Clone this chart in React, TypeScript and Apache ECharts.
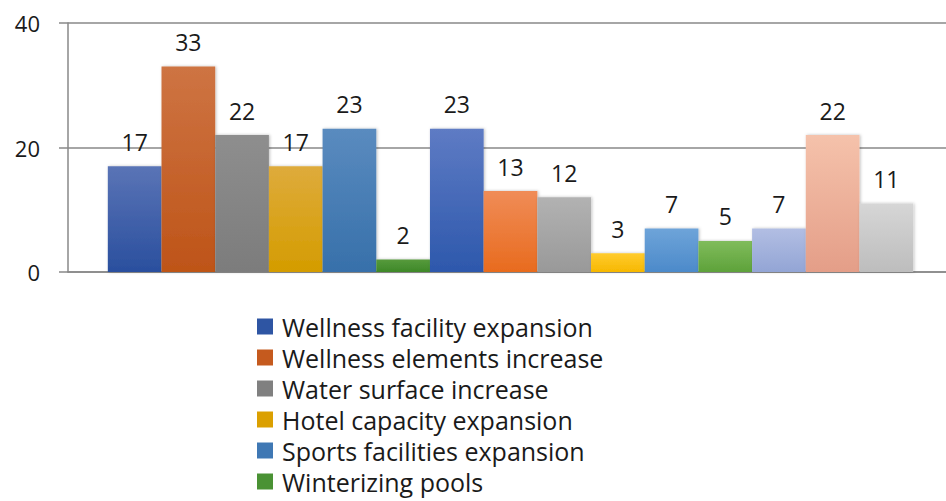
import React, { useEffect, useRef } from "react";
import * as echarts from "echarts";

const categories: string[] = [""];
const seriesNames: string[] = [
  "Wellness facility expansion",
  "Wellness elements increase",
  "Water surface increase",
  "Hotel capacity expansion",
  "Sports facilities expansion",
  "Winterizing pools",
  "Series 7",
  "Series 8",
  "Series 9",
  "Series 10",
  "Series 11",
  "Series 12",
  "Series 13",
  "Series 14",
  "Series 15",
];
const seriesValues: number[] = [17, 33, 22, 17, 23, 2, 23, 13, 12, 3, 7, 5, 7, 22, 11];
const legendShown: string[] = seriesNames.slice(0, 6);
const yTicks: number[] = [0, 20, 40];

const topColors: string[] = [
  "#5A74B6", "#CE7443", "#8E8E8E", "#DEAB3C", "#5A8BBF", "#569A3C",
  "#5E7BC4", "#F08C57", "#B2B2B2", "#FFCB2E", "#6EA4D9", "#80BC5C",
  "#B2BEE3", "#F5C2AB", "#D6D6D6",
];
const bottomColors: string[] = [
  "#2A4F9E", "#BE5418", "#7C7C7C", "#D49C00", "#3770AA", "#3E8828",
  "#2D58AC", "#E86B1E", "#999999", "#F7B800", "#4C8ACA", "#5EA23A",
  "#93A5D5", "#E49E88", "#BDBDBD",
];
const legendColors: string[] = ["#2E55A3", "#C55A1E", "#808080", "#DBA000", "#3F78B4", "#4A9234"];

export default function App() {
  const ref = useRef<HTMLDivElement>(null);
  useEffect(() => {
    document.body.style.margin = "0";
    if (!ref.current) return;
    const chart = echarts.init(ref.current, undefined, { renderer: "svg" });
    const font = "'Open Sans', Lato, sans-serif";
    const series = seriesNames.map((name, i) => ({
      name,
      type: "bar",
      barGap: "0%",
      barCategoryGap: "9%",
      data: [seriesValues[i]],
      itemStyle: {
        color: new echarts.graphic.LinearGradient(0, 0, 0, 1, [
          { offset: 0, color: topColors[i] },
          { offset: 1, color: bottomColors[i] },
        ]),
        shadowColor: "rgba(0,0,0,0.25)",
        shadowBlur: 3,
        shadowOffsetX: 1,
        shadowOffsetY: 0,
      },
      label: {
        show: true,
        position: "top",
        distance: 13,
        fontSize: 23,
        color: "#1a1a1a",
        fontFamily: font,
      },
    }));
    chart.setOption({
      animation: false,
      backgroundColor: "#ffffff",
      grid: { left: 68, width: 885, top: 23, height: 249, outerBoundsMode: "none", containLabel: false },
      legend: {
        orient: "vertical",
        left: 257,
        top: 314,
        height: 400,
        padding: 0,
        itemWidth: 16,
        itemHeight: 16,
        itemGap: 6,
        icon: "rect",
        data: legendShown.map((n, i) => ({ name: n, itemStyle: { color: legendColors[i] } })),
        textStyle: {
          fontSize: 25,
          lineHeight: 25,
          color: "#1a1a1a",
          fontFamily: font,
          padding: [0, 0, 0, 4],
        },
      },
      xAxis: {
        type: "category",
        data: categories,
        axisLine: { show: true, lineStyle: { color: "#888888", width: 1.5 } },
        axisTick: { show: false },
        axisLabel: { show: false },
      },
      yAxis: {
        type: "value",
        min: yTicks[0],
        max: yTicks[yTicks.length - 1],
        interval: 20,
        axisLine: { show: true, lineStyle: { color: "#888888", width: 1.5 } },
        axisTick: { show: true, length: 9, lineStyle: { color: "#888888", width: 1.5 } },
        splitLine: { show: true, lineStyle: { color: "#888888", width: 1.5 } },
        axisLabel: {
          margin: 28,
          fontSize: 22,
          color: "#1a1a1a",
          fontFamily: font,
        },
      },
      series,
    });
    return () => chart.dispose();
  }, []);
  return <div ref={ref} style={{ width: 946, height: 501 }} />;
}
